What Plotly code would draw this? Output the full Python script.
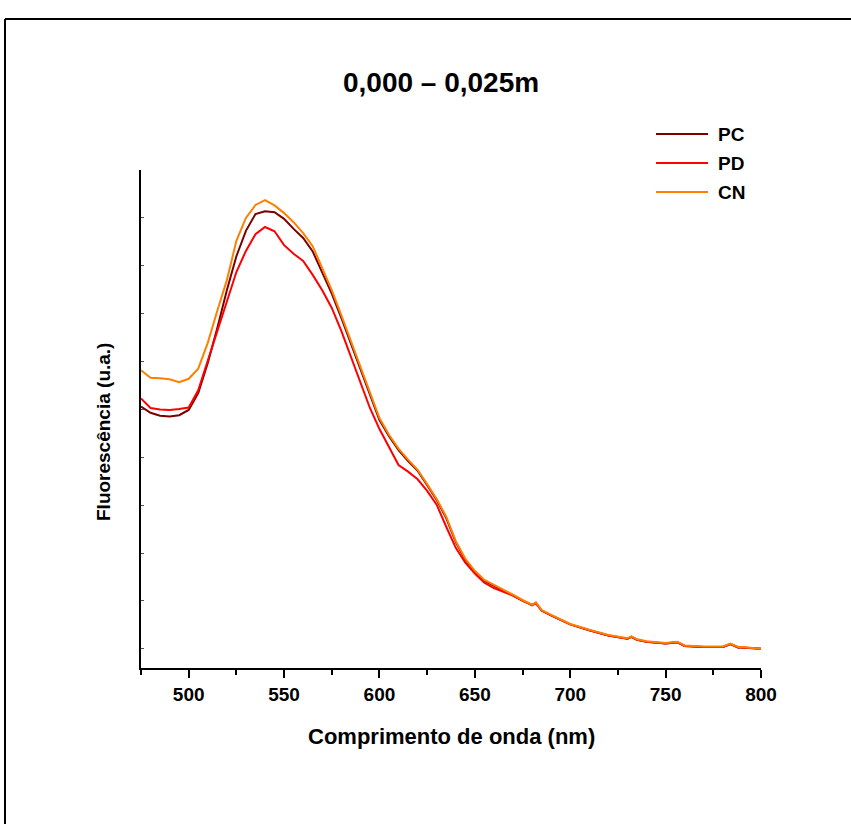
import plotly.graph_objects as go

# Emission spectra, sample depth 0,000 - 0,025 m
wavelength = [475, 480, 485, 490, 495, 500, 505, 510, 515, 520, 525, 530, 535, 540,
              545, 550, 555, 560, 565, 570, 575, 580, 585, 590, 595, 600, 605, 610,
              615, 620, 625, 630, 635, 640, 645, 650, 655, 660, 665, 670, 675, 680,
              682, 685, 690, 695, 700, 710, 720, 730, 732, 735, 740, 750, 756, 760,
              770, 780, 784, 788, 790, 800]

pc = [5.06, 4.93, 4.87, 4.85, 4.88, 4.99, 5.34, 5.97, 6.70, 7.49, 8.20, 8.73, 9.08, 9.14,
      9.12, 8.98, 8.77, 8.58, 8.30, 7.87, 7.42, 6.91, 6.38, 5.82, 5.32, 4.78, 4.44, 4.15,
      3.92, 3.72, 3.42, 3.11, 2.73, 2.23, 1.86, 1.61, 1.42, 1.32, 1.22, 1.12, 1.01, 0.91,
      0.96, 0.80, 0.70, 0.61, 0.51, 0.39, 0.28, 0.21, 0.25, 0.19, 0.15, 0.11, 0.14, 0.06,
      0.04, 0.04, 0.10, 0.03, 0.03, 0.00]

pd_ = [5.23, 5.03, 5.00, 4.99, 5.01, 5.04, 5.40, 6.03, 6.64, 7.27, 7.87, 8.31, 8.66, 8.81,
       8.72, 8.43, 8.25, 8.10, 7.81, 7.49, 7.12, 6.64, 6.10, 5.57, 5.03, 4.59, 4.22, 3.84,
       3.70, 3.54, 3.30, 3.01, 2.55, 2.11, 1.80, 1.57, 1.38, 1.27, 1.19, 1.11, 1.00, 0.92,
       0.95, 0.80, 0.70, 0.61, 0.51, 0.39, 0.28, 0.21, 0.25, 0.19, 0.15, 0.11, 0.14, 0.06,
       0.04, 0.04, 0.10, 0.03, 0.03, 0.00]

cn = [5.82, 5.66, 5.65, 5.63, 5.57, 5.64, 5.85, 6.39, 7.06, 7.70, 8.52, 9.00, 9.27, 9.37,
      9.26, 9.10, 8.91, 8.68, 8.41, 7.95, 7.49, 6.97, 6.43, 5.87, 5.37, 4.82, 4.47, 4.18,
      3.95, 3.74, 3.44, 3.13, 2.76, 2.25, 1.88, 1.63, 1.44, 1.34, 1.23, 1.13, 1.02, 0.92,
      0.97, 0.81, 0.71, 0.62, 0.52, 0.40, 0.29, 0.22, 0.26, 0.20, 0.16, 0.12, 0.15, 0.07,
      0.05, 0.05, 0.11, 0.04, 0.04, 0.00]

series_names = ["PC", "PD", "CN"]
series_values = [pc, pd_, cn]
series_colors = ["#7a0000", "#ff0000", "#ff8000"]

x_tick_values = [500, 550, 600, 650, 700, 750, 800]
x_tick_labels = ["500", "550", "600", "650", "700", "750", "800"]

FONT = "Liberation Sans, Arial, Helvetica, sans-serif"

fig = go.Figure()
for name, vals, col in zip(series_names, series_values, series_colors):
    fig.add_trace(go.Scatter(x=wavelength, y=vals, mode="lines", name=name,
                             line=dict(color=col, width=2), showlegend=False))

L, R, T, B = 141, 90, 170, 156
W, H = 851, 824
pw, ph = W - L - R, H - T - B


def px(x):
    return (x - L) / pw


def py(y):
    return (H - B - y) / ph


shapes = [
    # outer frame: top and left edges (the rest runs off the page)
    dict(type="line", xref="paper", yref="paper",
         x0=px(5), x1=px(W + 5), y0=py(19), y1=py(19),
         line=dict(color="black", width=2)),
    dict(type="line", xref="paper", yref="paper",
         x0=px(5), x1=px(5), y0=py(19), y1=py(H + 5),
         line=dict(color="black", width=2)),
]
annotations = [
    dict(text="<b>0,000 – 0,025m</b>", xref="paper", yref="paper",
         x=px(441), y=py(82), xanchor="center", yanchor="middle", showarrow=False,
         font=dict(family=FONT, size=28, color="black")),
    dict(text="<b>Comprimento de onda (nm)</b>", xref="paper", yref="paper",
         x=px(451), y=py(736), xanchor="center", yanchor="middle", showarrow=False,
         font=dict(family=FONT, size=22, color="black")),
    dict(text="<b>Fluorescência (u.a.)</b>", xref="paper", yref="paper",
         x=px(103), y=py(432), xanchor="center", yanchor="middle", showarrow=False,
         textangle=-90, font=dict(family=FONT, size=19, color="black")),
]

# legend
legend_rows = [134, 163, 192]
for name, col, ry in zip(series_names, series_colors, legend_rows):
    shapes.append(dict(type="line", xref="paper", yref="paper",
                       x0=px(656), x1=px(708), y0=py(ry), y1=py(ry),
                       line=dict(color=col, width=2)))
    annotations.append(dict(text=f"<b>{name}</b>", xref="paper", yref="paper",
                            x=px(716), y=py(ry), xanchor="left", yanchor="middle",
                            showarrow=False,
                            font=dict(family=FONT, size=19, color="black")))

fig.update_layout(
    width=W, height=H,
    margin=dict(l=L, r=R, t=T, b=B),
    paper_bgcolor="white", plot_bgcolor="white",
    font=dict(family=FONT, color="black"),
    shapes=shapes, annotations=annotations,
    xaxis=dict(range=[475, 800], showgrid=False, zeroline=False,
               showline=True, linecolor="black", linewidth=2,
               tickmode="array", tickvals=x_tick_values, ticktext=x_tick_labels,
               ticks="outside", ticklen=8, tickwidth=2, tickcolor="black",
               tickfont=dict(family=FONT, size=19, color="black", weight="bold"),
               minor=dict(dtick=25, tick0=475, ticks="outside", ticklen=5,
                          tickwidth=1.5, tickcolor="black")),
    yaxis=dict(range=[-0.4, 10.0], showgrid=False, zeroline=False,
               showline=True, linecolor="black", linewidth=2,
               tick0=0, dtick=1, ticks="inside", ticklen=3, tickwidth=1,
               tickcolor="#555", showticklabels=False),
)

fig.write_html("out.html")
